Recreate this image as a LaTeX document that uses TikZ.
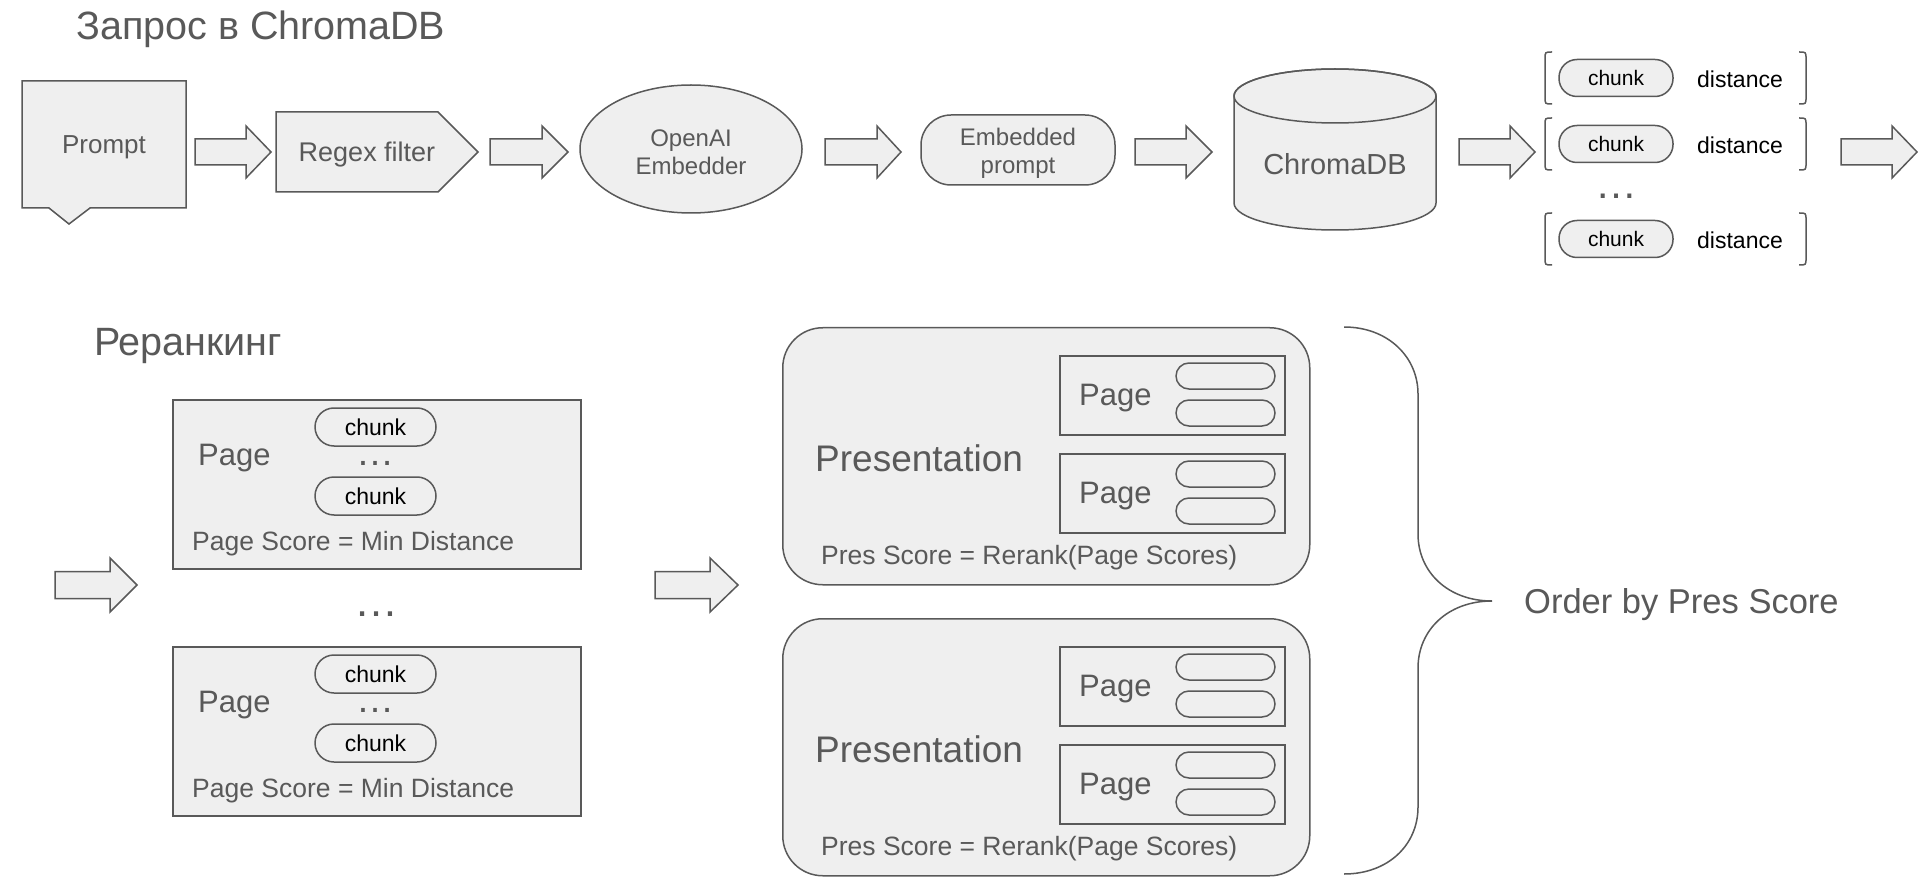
\documentclass[tikz,border=0pt]{standalone}
\usepackage{fontspec}
\setmainfont{Liberation Sans}
\usetikzlibrary{shapes.geometric,calc}
\definecolor{lc}{HTML}{595959}
\definecolor{tc}{HTML}{595959}
\definecolor{fc}{HTML}{EFEFEF}
\newcommand\fsz[2]{\fontsize{#1}{#2}\selectfont}
\newcommand\myblockarrow[6]{\draw[shp] (#1,#4-#5) -- (#2,#4-#5) -- (#2,#4-#6) -- (#3,#4) -- (#2,#4+#6) -- (#2,#4+#5) -- (#1,#4+#5) -- cycle;}
\begin{document}
\begin{tikzpicture}[x=1pt,y=-1pt,
  shp/.style={draw=lc, line width=1.5pt, fill=fc},
  ln/.style={draw=lc, line width=1.5pt},
  txt/.style={text=tc, inner sep=0pt},
  pill/.style={shp, inner sep=0pt, text=black},
  dotsnode/.style={txt, anchor=base, text height=4pt, text depth=0pt},
  boxnode/.style={shp, inner sep=0pt, anchor=north west}]
\useasboundingbox (0,0) rectangle (1918,890);
\fill[white] (0,0) rectangle (1918,890);

% titles
\node[txt, anchor=west, font=\fsz{39.5}{46}] (t1) at (76,29) {Запрос в ChromaDB};
\node[txt, anchor=west, font=\fsz{39.5}{46}] (t2) at (94,346) {Реранкинг};

% prompt callout
\draw[shp] (22,81) -- (186,81) -- (186,208) -- (90,208) -- (69,224) -- (49,208) -- (22,208) -- cycle;
\node[txt, font=\fsz{26}{30}] (prompt) at (104,147) {Prompt};

% block arrows top row
\myblockarrow{195}{246}{271}{152}{13}{26}
\myblockarrow{490}{542}{568}{152}{13}{26}
\myblockarrow{825}{877}{901}{152}{13}{26}
\myblockarrow{1135}{1186}{1212}{152}{13}{26}
\myblockarrow{1459}{1510}{1535}{152}{13}{26}
\myblockarrow{1841}{1892}{1917}{152}{13}{26}

% regex filter
\draw[shp] (276,112) -- (438,112) -- (478,152) -- (438,192) -- (276,192) -- cycle;
\node[txt, font=\fsz{27}{31}] (regex) at (367,155) {Regex filter};

% embedder
\node[shp, ellipse, minimum width=222, minimum height=128, inner sep=0pt] (emb) at (691,149) {};
\node[txt, align=center, font=\fsz{24}{28}] (embtext) at (691,152) {OpenAI\\Embedder};

% embedded prompt
\node[shp, rounded corners=30, minimum width=194, minimum height=70, inner sep=0pt] (eprompt) at (1018,150) {};
\node[txt, align=center, font=\fsz{24}{28}] (eptext) at (1018,153) {Embedded\\prompt};

% chromadb cylinder
\draw[shp] (1234,96) -- (1234,203) arc[start angle=180, end angle=0, x radius=101, y radius=27] -- (1436,96) arc[start angle=0, end angle=-180, x radius=101, y radius=27] -- cycle;
\draw[ln] (1335,96) ellipse[x radius=101, y radius=27];
\node[txt, font=\fsz{29}{34}] (chroma) at (1335,164) {ChromaDB};

% chunk / distance list
\foreach \yy/\nn in {78/1,144/2,239/3}{
  \draw[ln] (1552,\yy-26) .. controls (1545,\yy-26) .. (1545,\yy-19) -- (1545,\yy+19) .. controls (1545,\yy+26) .. (1552,\yy+26);
  \draw[ln] (1799,\yy-26) .. controls (1806,\yy-26) .. (1806,\yy-19) -- (1806,\yy+19) .. controls (1806,\yy+26) .. (1799,\yy+26);
  \node[pill, rounded corners=18, minimum width=114, minimum height=37, font=\fsz{21}{25}] (lc\nn) at (1616,\yy) {chunk};
  \node[inner sep=0pt, font=\fsz{23}{27}] (ld\nn) at (1740,\yy+1) {distance};
}
\node[dotsnode, font=\fsz{42}{48}] (ldots) at (1616,199) {…};

% reranking arrows
\myblockarrow{55}{110}{137}{585}{13.5}{27}
\myblockarrow{655}{710}{738}{585}{13.5}{27}

% page boxes
\foreach \tp/\nn in {399/1,646/2}{
  \node[boxnode, minimum width=408, minimum height=169] (pg\nn) at (172,\tp) {};
  \node[txt, anchor=west, font=\fsz{31}{36}] (pgt\nn) at (198,\tp+59) {Page};
  \node[pill, rounded corners=19, minimum width=121, minimum height=38, font=\fsz{23}{27}] (pga\nn) at (375.5,\tp+28) {chunk};
  \node[pill, rounded corners=19, minimum width=121, minimum height=38, font=\fsz{23}{27}] (pgb\nn) at (375.5,\tp+97) {chunk};
  \node[dotsnode, font=\fsz{38}{44}] (pgd\nn) at (375.5,\tp+66) {…};
  \node[txt, anchor=west, font=\fsz{26.5}{31}] (pgs\nn) at (192,\tp+145) {Page Score = Min Distance};
}
\node[dotsnode, font=\fsz{44}{50}] (mdots) at (376,616) {…};

% presentation boxes
\foreach \tp/\nn in {327/1,618/2}{
  \node[boxnode, rounded corners=40, minimum width=527, minimum height=257] (pr\nn) at (782,\tp) {};
  \node[txt, anchor=west, font=\fsz{37}{44}] (prt\nn) at (815,\tp+131) {Presentation};
  \foreach \oo/\mm in {28/a,126/b}{
    \node[boxnode, minimum width=225, minimum height=79] (ip\nn\mm) at (1059,\tp+\oo) {};
    \node[txt, anchor=west, font=\fsz{31}{36}] (ipt\nn\mm) at (1079,\tp+\oo+43) {Page};
    \node[pill, rounded corners=13, minimum width=99, minimum height=26] (ipa\nn\mm) at (1225.5,\tp+\oo+21) {};
    \node[pill, rounded corners=13, minimum width=99, minimum height=26] (ipb\nn\mm) at (1225.5,\tp+\oo+58) {};
  }
  \node[txt, anchor=west, font=\fsz{26.5}{31}] (prs\nn) at (821,\tp+231) {Pres Score = Rerank(Page Scores)};
}

% brace
\draw[ln] (1344,327) .. controls (1388,327) and (1418,357) .. (1418,394) -- (1418,534) .. controls (1418,572) and (1448,601) .. (1492,601) .. controls (1448,601) and (1418,630) .. (1418,668) -- (1418,807) .. controls (1418,845) and (1388,874) .. (1344,874);
\node[txt, anchor=west, font=\fsz{34.5}{40}] (order) at (1524,605) {Order by Pres Score};
\end{tikzpicture}
\end{document}
